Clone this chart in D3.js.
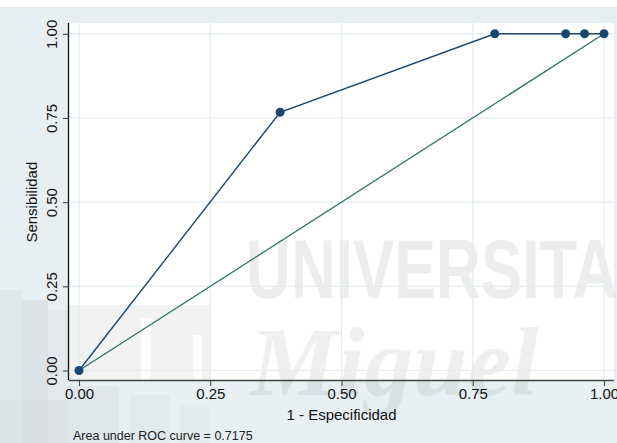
<!DOCTYPE html>
<html>
<head>
<meta charset="utf-8">
<script src="https://cdn.jsdelivr.net/npm/d3@7/dist/d3.min.js"></script>
<style>
  html, body { margin: 0; padding: 0; background: #ffffff; }
  svg { display: block; }
  text { font-family: "Liberation Sans", Arial, Helvetica, sans-serif; }
</style>
</head>
<body>
<svg id="chart" width="617" height="443"></svg>
<script>
// ---- data ----
const fpr = [0, 0.383, 0.792, 0.927, 0.963, 1];          // 1 - Especificidad
const tpr = [0, 0.767, 1, 1, 1, 1];                     // Sensibilidad
const refLine = [0, 1];                                 // diagonal reference
const xTicks = [0, 0.25, 0.5, 0.75, 1];
const yTicks = [0, 0.25, 0.5, 0.75, 1];
const xTitle = "1 - Especificidad";
const yTitle = "Sensibilidad";
const note = "Area under ROC curve = 0.7175";

const svg = d3.select("#chart");
const W = 617, H = 443;

// outer background
svg.append("rect").attr("x", 0).attr("y", 7).attr("width", W).attr("height", H - 7).attr("fill", "#e8eff2");

// faint left logo shading in background
const bgBlocks = [
  [0, 290, 22, 153, 0.03], [22, 300, 26, 143, 0.05], [48, 310, 21, 133, 0.025],
  [0, 400, 69, 43, 0.02], [69, 386, 50, 57, 0.03], [130, 395, 40, 48, 0.025], [180, 405, 30, 38, 0.02]
];
svg.selectAll("rect.bgb").data(bgBlocks).enter().append("rect")
  .attr("x", d => d[0]).attr("y", d => d[1]).attr("width", d => d[2]).attr("height", d => d[3])
  .attr("fill", "#000").attr("opacity", d => d[4]);

// plot region
const pl = 69, pr = 614, pt = 23, pb = 380;
svg.append("rect").attr("x", pl).attr("y", pt).attr("width", pr - pl).attr("height", pb - pt).attr("fill", "#ffffff");

// faint gray block inside plot (watermark)
svg.append("rect").attr("x", pl).attr("y", 305).attr("width", 141).attr("height", pb - 305).attr("fill", "#000").attr("opacity", 0.05);
svg.append("rect").attr("x", 141).attr("y", 318).attr("width", 10).attr("height", pb - 318).attr("fill", "#fff").attr("opacity", 0.8);
svg.append("rect").attr("x", 193).attr("y", 335).attr("width", 9).attr("height", pb - 335).attr("fill", "#fff").attr("opacity", 0.8);

const x = d3.scaleLinear().domain([0, 1]).range([79, 604]);
const y = d3.scaleLinear().domain([0, 1]).range([370.5, 33.8]);

// watermark text
svg.append("text").attr("transform", "translate(246,298) scale(0.74,1)")
  .attr("font-size", 84).attr("font-weight", "bold").attr("fill", "#000").attr("opacity", 0.065)
  .text("UNIVERSITAS");
svg.append("text").attr("x", 250).attr("y", 395)
  .style("font-family", "'Liberation Serif', 'DejaVu Serif', 'Times New Roman', serif")
  .style("font-style", "italic").style("font-weight", "bold").attr("font-size", 98).attr("letter-spacing", 0)
  .attr("fill", "#000").attr("opacity", 0.06)
  .text("Miguel");

// grid
const grid = svg.append("g");
grid.selectAll("line.gx").data(xTicks).enter().append("line")
  .attr("x1", d => x(d)).attr("x2", d => x(d)).attr("y1", pt).attr("y2", pb)
  .attr("stroke", "#e3ecef").attr("stroke-width", 1.2);
grid.selectAll("line.gy").data(yTicks).enter().append("line")
  .attr("y1", d => y(d)).attr("y2", d => y(d)).attr("x1", pl).attr("x2", pr)
  .attr("stroke", "#e3ecef").attr("stroke-width", 1.2);

// axes
const xAxis = d3.axisBottom(x).tickValues(xTicks).tickFormat(d3.format(".2f")).tickSize(6).tickSizeOuter(0);
const gx = svg.append("g").attr("transform", `translate(0,${pb})`).call(xAxis);
gx.select(".domain").attr("d", `M${pl},0.5H${pr}`).attr("stroke", "#444").attr("stroke-width", 1.3);
gx.selectAll(".tick line").attr("stroke", "#444").attr("stroke-width", 1.1);
gx.selectAll(".tick text").attr("font-size", 15).attr("fill", "#111").attr("y", 8).attr("dy", "0.71em")
  .style("font-family", "'Liberation Sans', Arial, sans-serif");

const yAxis = d3.axisLeft(y).tickValues(yTicks).tickFormat(d3.format(".2f")).tickSize(6).tickSizeOuter(0);
const gy = svg.append("g").attr("transform", `translate(${pl},0)`).call(yAxis);
gy.select(".domain").attr("d", `M-0.5,${pt}V${pb}`).attr("stroke", "#111").attr("stroke-width", 1.3);
gy.selectAll(".tick line").attr("stroke", "#444").attr("stroke-width", 1.1);
gy.selectAll(".tick text")
  .attr("font-size", 15).attr("fill", "#111")
  .style("font-family", "'Liberation Sans', Arial, sans-serif")
  .attr("x", null).attr("dy", null)
  .attr("transform", "translate(-12,0) rotate(-90)")
  .attr("text-anchor", "middle");

// reference line
svg.append("line")
  .attr("x1", x(refLine[0])).attr("y1", y(refLine[0]))
  .attr("x2", x(refLine[1])).attr("y2", y(refLine[1]))
  .attr("stroke", "#2f7467").attr("stroke-width", 1.3);

// ROC curve
const pts = fpr.map((v, i) => [v, tpr[i]]);
svg.append("path").datum(pts)
  .attr("d", d3.line().x(d => x(d[0])).y(d => y(d[1])))
  .attr("fill", "none").attr("stroke", "#1a476f").attr("stroke-width", 1.4);
svg.selectAll("circle.pt").data(pts).enter().append("circle")
  .attr("cx", d => x(d[0])).attr("cy", d => y(d[1])).attr("r", 4.5)
  .attr("fill", "#1a476f");

// titles
svg.append("text").attr("x", (x(0) + x(1)) / 2).attr("y", 420).attr("text-anchor", "middle")
  .attr("font-size", 15).attr("fill", "#111").text(xTitle);
svg.append("text").attr("transform", `translate(37,${(y(0) + y(1)) / 2}) rotate(-90)`)
  .attr("text-anchor", "middle").attr("font-size", 15).attr("fill", "#111").text(yTitle);
svg.append("text").attr("x", 73).attr("y", 440).attr("font-size", 12.5).attr("fill", "#222").text(note);
</script>
</body>
</html>
